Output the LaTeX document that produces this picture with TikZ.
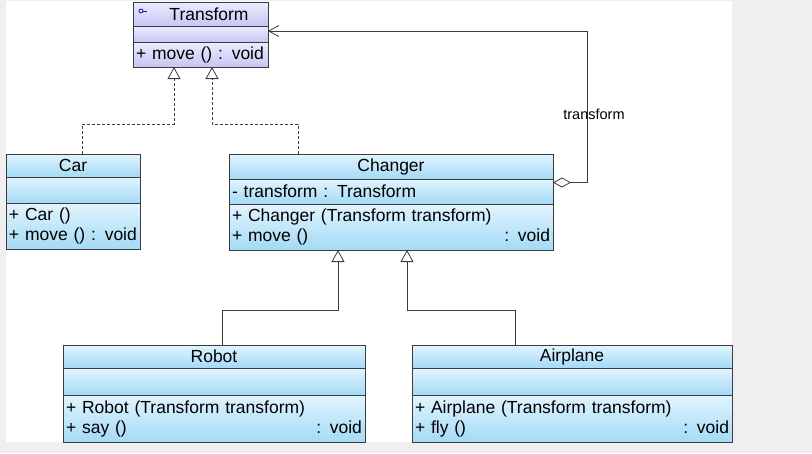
\documentclass[tikz,border=0pt]{standalone}
\usepackage{fontspec}
\setmainfont{Liberation Sans}
\usetikzlibrary{positioning,arrows.meta}

\definecolor{clsTop}{HTML}{E2F4FE}
\definecolor{clsBot}{HTML}{A4DAF6}
\definecolor{ifcTop}{HTML}{EBEBFF}
\definecolor{ifcBot}{HTML}{C6C6F5}
\definecolor{edge}{HTML}{3C3C3C}
\definecolor{pagegray}{HTML}{EFEFEF}

% one method line with the return type pushed to the right
\newcommand\oprow[2]{\hbox to \linewidth{#1\hfill#2}}

\tikzset{
  part/.style={draw=edge, line width=0.9pt, outer sep=0pt, inner xsep=3pt,
    inner ysep=0pt, font=\fontsize{17.5}{20}\selectfont},
  clspart/.style={part, top color=clsTop, bottom color=clsBot},
  ifcpart/.style={part, top color=ifcTop, bottom color=ifcBot},
  realize/.style={draw=edge, line width=0.8pt, dash pattern=on 3pt off 2pt,
    -{Triangle[open, length=12pt, width=13pt]}},
  inherit/.style={draw=edge, line width=0.8pt,
    -{Triangle[open, length=12pt, width=13pt]}},
  aggreg/.style={draw=edge, line width=0.8pt,
    {Diamond[open, length=18pt, width=10pt]}-{Straight Barb[length=10pt, width=11pt]}},
  lbl/.style={font=\fontsize{14.5}{16}\selectfont}
}

\begin{document}
\begin{tikzpicture}[x=1pt,y=-1pt]
    \useasboundingbox (0,0) rectangle (812,453);
    \fill[pagegray] (0,0) rectangle (812,453);
    \fill[white] (6,1) rectangle (732,442);

    % interface
    \node[ifcpart, minimum width=135pt, minimum height=24pt, anchor=north west] (tf) at (133,2) {\hspace{17pt}Transform};
    \node[ifcpart, minimum width=135pt, minimum height=16pt, below=0pt of tf] (tfatt) {};
    \node[ifcpart, text width=129pt, minimum height=25pt, align=left, below=0pt of tfatt] (tfops) {+ move () : void};
    \draw[draw=ifcBot!20!blue!60!black, line width=0.8pt] (141,11) circle (2pt);
    \draw[draw=ifcBot!20!blue!60!black, line width=0.8pt] (143,11) -- (147,11);

    % Car
    \node[clspart, minimum width=134pt, minimum height=23pt, anchor=north west] (car) at (6,154) {Car};
    \node[clspart, minimum width=134pt, minimum height=26pt, below=0pt of car] (caratt) {};
    \node[clspart, text width=128pt, minimum height=46pt, align=left, below=0pt of caratt] (carops)
        {+ Car ()\\+ move () : void};

    % Changer
    \node[clspart, minimum width=324pt, minimum height=25pt, anchor=north west] (changer) at (229,154) {Changer};
    \node[clspart, text width=318pt, minimum height=25pt, align=left, below=0pt of changer] (changeratt)
        {- transform : Transform};
    \node[clspart, text width=318pt, minimum height=46pt, align=left, below=0pt of changeratt] (changerops)
        {+ Changer (Transform transform)\\\oprow{+ move ()}{: void}};

    % Robot
    \node[clspart, minimum width=302pt, minimum height=23pt, anchor=north west] (robot) at (63,345) {Robot};
    \node[clspart, minimum width=302pt, minimum height=27pt, below=0pt of robot] (robotatt) {};
    \node[clspart, text width=296pt, minimum height=47pt, align=left, below=0pt of robotatt] (robotops)
        {+ Robot (Transform transform)\\\oprow{+ say ()}{: void}};

    % Airplane
    \node[clspart, minimum width=320pt, minimum height=23pt, anchor=north west] (airplane) at (412,345) {Airplane};
    \node[clspart, minimum width=320pt, minimum height=27pt, below=0pt of airplane] (airplaneatt) {};
    \node[clspart, text width=314pt, minimum height=47pt, align=left, below=0pt of airplaneatt] (airplaneops)
        {+ Airplane (Transform transform)\\\oprow{+ fly ()}{: void}};

    % relations
    \draw[realize] ([xshift=9pt]car.north) -- ++(0,-30) -| ([xshift=-26.5pt]tfops.south);
    \draw[realize] ([xshift=-93pt]changer.north) -- ++(0,-30) -| ([xshift=11.5pt]tfops.south);
    \draw[inherit] ([xshift=8pt]robot.north) -- ++(0,-35) -| ([xshift=-53pt]changerops.south);
    \draw[inherit] ([xshift=-57pt]airplane.north) -- ++(0,-35) -| ([xshift=16pt]changerops.south);
    \draw[aggreg] ([yshift=9pt]changeratt.east) -- ++(34,0) |- ([yshift=3pt]tfatt.east);
    \node[lbl] (aglabel) at (594,114) {transform};
\end{tikzpicture}
\end{document}
